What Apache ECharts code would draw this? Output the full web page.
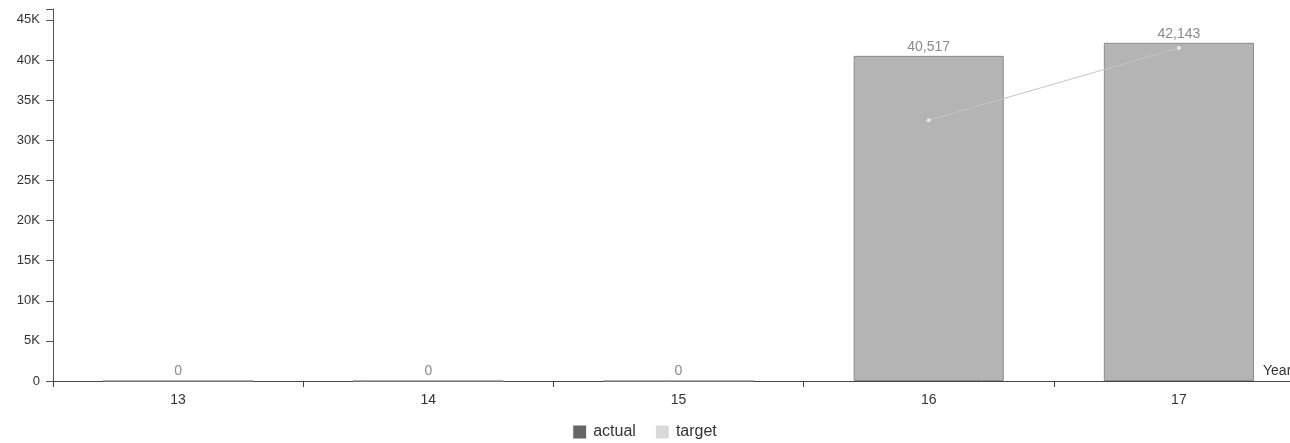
<!DOCTYPE html>
<html>
<head>
<meta charset="utf-8">
<script src="https://cdn.jsdelivr.net/npm/echarts@6/dist/echarts.min.js"></script>
<style>
html,body{margin:0;padding:0;background:#fff;}
#chart{width:1290px;height:443px;}
</style>
</head>
<body>
<div id="chart"></div>
<script>
const categories = ['13', '14', '15', '16', '17'];
const actualValues = [0, 0, 0, 40517, 42143];
const targetValues = [null, null, null, 32500, 41500];
const yAxisMax = 46357;
const yTickStep = 5000;

const chart = echarts.init(document.getElementById('chart'));
const font = 'Liberation Sans, Arial, sans-serif';
chart.setOption({
  animation: false,
  textStyle: { fontFamily: font },
  grid: { left: 53, width: 1251, top: 9, bottom: 62, containLabel: false, outerBoundsMode: 'none' },
  legend: {
    top: 419,
    left: 'center',
    itemWidth: 13,
    itemHeight: 13,
    itemGap: 20,
    icon: 'rect',
    textStyle: { fontFamily: font, fontSize: 16, color: '#333', padding: [0, 0, 0, 2] },
    data: [
      { name: 'actual', itemStyle: { color: '#666666', borderWidth: 0 } },
      { name: 'target', itemStyle: { color: '#d9d9d9', borderWidth: 0 } }
    ]
  },
  xAxis: {
    type: 'category',
    data: categories,
    boundaryGap: true,
    name: 'Year',
    nameLocation: 'end',
    nameGap: -41,
    nameTextStyle: { fontFamily: font, fontSize: 14, color: '#333', align: 'left', verticalAlign: 'bottom', padding: [0, 0, 3, 0] },
    axisLine: { lineStyle: { color: '#444', width: 1 } },
    axisTick: { show: true, length: 6, lineStyle: { color: '#444' } },
    axisLabel: { fontFamily: font, fontSize: 14, color: '#333', margin: 12 },
    splitLine: { show: false }
  },
  yAxis: {
    type: 'value',
    min: 0,
    max: yAxisMax,
    interval: yTickStep,
    axisLine: { show: true, lineStyle: { color: '#555', width: 1 } },
    axisTick: { show: true, length: 7, lineStyle: { color: '#555' } },
    axisLabel: {
      fontFamily: font, fontSize: 13, color: '#333', margin: 13,
      formatter: function (v) {
        if (v % yTickStep !== 0) return '';
        return v === 0 ? '0' : (v / 1000) + 'K';
      }
    },
    splitLine: { show: false }
  },
  series: [
    {
      name: 'actual',
      type: 'bar',
      data: actualValues,
      barWidth: '60%',
      itemStyle: { color: '#b4b4b4', borderColor: '#8c8c8c', borderWidth: 1 },
      label: {
        show: true,
        position: 'top',
        distance: 2,
        fontFamily: font,
        fontSize: 14,
        color: '#8a8a8a',
        formatter: function (p) { return p.value === 0 ? '0' : p.value.toLocaleString('en-US'); }
      },
      z: 2
    },
    {
      name: 'target',
      type: 'line',
      data: targetValues,
      symbol: 'circle',
      symbolSize: 4,
      showSymbol: true,
      lineStyle: { color: '#c4c4c4', width: 1 },
      itemStyle: { color: '#e6e6e6' },
      z: 3
    }
  ]
});
</script>
</body>
</html>
